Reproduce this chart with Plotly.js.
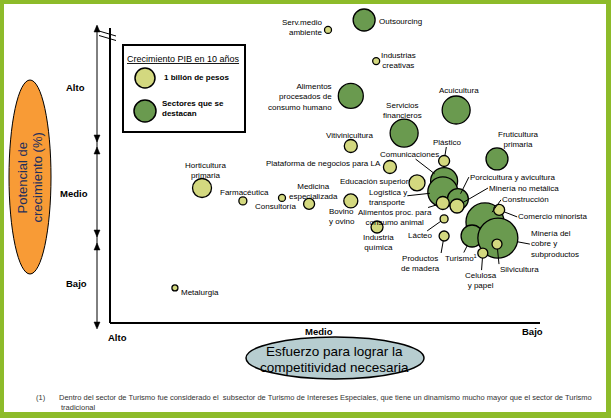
<!DOCTYPE html>
<html>
<head>
<meta charset="utf-8">
<script src="https://cdn.plot.ly/plotly-3.0.1.min.js"></script>
<style>html,body{margin:0;padding:0;background:#fff}#chart{width:611px;height:418px}</style>
</head>
<body>
<div id="chart"></div>
<script>
// ---------------- DATA ----------------
const sectors = [
  "Outsourcing", "Alimentos procesados de consumo humano", "Acuicultura", "Servicios financieros",
  "Fruticultura primaria", "Comunicaciones", "Logística y transporte", "Porcicultura y avicultura",
  "Construcción", "Turismo", "Minería del cobre y subproductos",
  "Serv.medio ambiente", "Industrias creativas", "Vitivinicultura", "Plástico",
  "Plataforma de negocios para LA", "Educación superior", "Alimentos proc. para consumo animal",
  "Minería no metálica", "Lácteo", "Productos de madera", "Industria química", "Bovino y ovino",
  "Medicina especializada", "Consultoría", "Farmacéutica", "Horticultura primaria", "Metalurgia",
  "Comercio minorista", "Silvicultura", "Celulosa y papel"
];
const sectorLabels = [
  "Outsourcing", "Alimentos<br>procesados de<br>consumo humano", "Acuicultura", "Servicios<br>financieros",
  "Fruticultura<br>primaria", "Comunicaciones", "Logística y<br>transporte", "Porcicultura y avicultura",
  "Construcción", "Turismo<sup>1</sup>", "Minería del<br>cobre y<br>subproductos",
  "Serv.medio<br>ambiente", "Industrias<br>creativas", "Vitivinicultura", "Plástico",
  "Plataforma de negocios para LA", "Educación superior", "Alimentos proc. para<br>consumo animal",
  "Minería no metálica", "Lácteo", "Productos<br>de madera", "Industria<br>química", "Bovino<br>y ovino",
  "Medicina<br>especializada", "Consultoría", "Farmacéutica", "Horticultura<br>primaria", "Metalurgia",
  "Comercio minorista", "Silvicultura", "Celulosa<br>y papel"
];
// x: esfuerzo para lograr la competitividad (0 = Alto, 100 = Bajo)
const esfuerzo = [59.1, 56.0, 80.5, 68.4, 90.0, 77.7, 77.4, 80.9, 87.2, 84.2, 90.2,
                  50.7, 61.9, 56.0, 77.7, 65.1, 71.4, 77.4, 80.7, 77.7, 77.7, 62.1, 56.0,
                  46.3, 40.0, 30.9, 21.4, 15.1, 90.5, 90.0, 86.7];
// y: potencial de crecimiento (0 = Bajo, 100 = Alto)
const potencial = [101.0, 75.7, 71.0, 63.3, 54.7, 47.3, 43.7, 41.3, 33.7, 29.0, 28.3,
                   97.7, 87.3, 59.0, 54.0, 52.0, 46.7, 40.0, 39.0, 34.7, 29.0, 32.0, 40.7,
                   39.7, 41.7, 40.7, 45.0, 11.7, 37.7, 26.3, 23.3];
// crecimiento PIB en 10 años (bubble size)
const crecimientoPIB = [22, 25, 28, 28, 22, 27, 30, 21, 38, 22, 40,
                        7, 7, 13, 11, 13, 16, 13, 14, 8, 10, 12, 14,
                        11, 7, 8, 19, 6, 11, 10, 10];
// sectores que se destacan
const destacado = [1,1,1,1,1,1,1,1,1,1,1, 0,0,0,0,0,0,0,0,0,0,0,0, 0,0,0,0,0,0,0,0];

const yTicks = ["Alto", "Medio", "Bajo"];
const xTicks = ["Alto", "Medio", "Bajo"];

// ---------------- LABEL PLACEMENT (pixel offsets from each bubble) ----------------
// [dx, dy, xanchor, yanchor, align, leader, standoff]
const labelPlace = {
  "Outsourcing": [14, 2, "left", "middle", "left", 0, 0],
  "Alimentos procesados de consumo humano": [-18, 1.5, "right", "middle", "right", 0, 0],
  "Acuicultura": [3, -20, "center", "middle", "center", 0, 0],
  "Servicios financieros": [-2, -23, "center", "middle", "center", 0, 0],
  "Fruticultura primaria": [21, -19, "center", "middle", "center", 0, 0],
  "Comunicaciones": [-35, -27, "center", "middle", "center", 1, 12],
  "Logística y transporte": [-55, 6, "center", "middle", "left", 1, 13],
  "Porcicultura y avicultura": [11, -22, "left", "middle", "left", 1, 6],
  "Construcción": [16, -22, "left", "middle", "left", 1, 12],
  "Turismo": [-11, 22, "center", "middle", "center", 1, 11],
  "Minería del cobre y subproductos": [32, 6, "left", "middle", "left", 1, 20],
  "Serv.medio ambiente": [-5, -2, "right", "middle", "right", 0, 0],
  "Industrias creativas": [4, -1, "left", "middle", "center", 0, 0],
  "Vitivinicultura": [-1, -11, "center", "middle", "center", 0, 0],
  "Plástico": [3, -19, "center", "middle", "center", 1, 5.5],
  "Plataforma de negocios para LA": [-8, -4, "right", "middle", "right", 0, 0],
  "Educación superior": [-7, -1, "right", "middle", "right", 0, 0],
  "Alimentos proc. para consumo animal": [-47.5, 14.5, "center", "middle", "center", 1, 6.5],
  "Minería no metálica": [31, -18, "left", "middle", "left", 1, 7],
  "Lácteo": [-24, 17, "center", "middle", "center", 1, 4],
  "Productos de madera": [-3, 17, "right", "top", "center", 1, 5],
  "Industria química": [1, 15, "center", "middle", "center", 0, 0],
  "Bovino y ovino": [-23, 15.5, "left", "middle", "left", 0, 0],
  "Medicina especializada": [4, -12.5, "center", "middle", "center", 0, 0],
  "Consultoría": [-6.5, 9, "center", "middle", "center", 0, 0],
  "Farmacéutica": [2, -8, "center", "middle", "center", 0, 0],
  "Horticultura primaria": [3, -18, "center", "middle", "center", 0, 0],
  "Metalurgia": [5, 5, "left", "middle", "left", 0, 0],
  "Comercio minorista": [18, 7, "left", "middle", "left", 1, 5.5],
  "Silvicultura": [2, 20, "left", "top", "left", 1, 5],
  "Celulosa y papel": [-2, 27, "center", "middle", "center", 1, 5]
};

// ---------------- STYLE ----------------
const W = 611, H = 418;
const FONT = "Liberation Sans, Arial, sans-serif";
const LIGHT = "#D3D87F", DARK = "#6A9A4F", GREEN_FRAME = "#8DBB2A";
const P = x => x / W;          // pixel x -> paper
const Q = y => 1 - y / H;      // pixel y -> paper

function pick(arr, flag) { return arr.filter((_, i) => destacado[i] === flag); }

const traces = [1, 0].map(flag => ({
  type: "scatter", mode: "markers",
  x: pick(esfuerzo, flag), y: pick(potencial, flag),
  text: pick(sectors, flag),
  hoverinfo: "text", cliponaxis: false,
  marker: {
    size: pick(crecimientoPIB, flag), sizemode: "diameter",
    color: flag ? DARK : LIGHT, opacity: 1,
    line: { color: "#000", width: 1.3 }
  }
}));

const annotations = [];
sectors.forEach((s, i) => {
  const p = labelPlace[s];
  annotations.push({
    x: esfuerzo[i], y: potencial[i], xref: "x", yref: "y",
    text: sectorLabels[i], showarrow: true,
    ax: p[0], ay: p[1], axref: "pixel", ayref: "pixel",
    xanchor: p[2], yanchor: p[3], align: p[4],
    arrowhead: 0, arrowwidth: p[5] ? 1 : 0.1,
    arrowcolor: p[5] ? "#000" : "rgba(0,0,0,0)",
    standoff: p[6], borderpad: 0,
    font: { family: FONT, size: 8, color: "#000" }
  });
});

function txt(text, x, y, opts) {
  return Object.assign({
    xref: "paper", yref: "paper", x: P(x), y: Q(y), text: text, showarrow: false,
    xanchor: "center", yanchor: "middle", borderpad: 0,
    font: { family: FONT, size: 8, color: "#000" }
  }, opts || {});
}

// axis tick labels
const bold10 = { family: FONT, size: 9.5, color: "#000", weight: "bold" };
const yTickPos = [[75, 87], [74, 193], [76, 283]];
yTicks.forEach((t, i) => annotations.push(txt(t, yTickPos[i][0], yTickPos[i][1], { font: bold10 })));
const xTickPos = [[117, 337], [319, 331], [532, 331]];
xTicks.forEach((t, i) => annotations.push(txt(t, xTickPos[i][0], xTickPos[i][1], { font: bold10 })));

// axis titles inside ellipses
annotations.push(txt("Potencial de", 22, 177.5, { textangle: -90, font: { family: FONT, size: 13, color: "#1F2F5C" } }));
annotations.push(txt("crecimiento (%)", 37, 177.5, { textangle: -90, font: { family: FONT, size: 13, color: "#1F2F5C" } }));
annotations.push(txt("Esfuerzo para lograr la", 334, 351, { font: { family: FONT, size: 13.5, color: "#000" } }));
annotations.push(txt("competitividad necesaria", 334, 367, { font: { family: FONT, size: 13.5, color: "#000" } }));

// legend texts
annotations.push(txt("<u>Crecimiento PIB en 10 años</u>", 183, 59, { font: { family: FONT, size: 9, color: "#000" } }));
annotations.push(txt("1 billón de pesos", 163, 78, { xanchor: "left", font: { family: FONT, size: 8, color: "#000", weight: "bold" } }));
annotations.push(txt("Sectores que se<br>destacan", 161, 108.5, { xanchor: "left", align: "left", font: { family: FONT, size: 8, color: "#000", weight: "bold" } }));

// footnote
annotations.push(txt("(1)", 35, 397, { xanchor: "left", font: { family: FONT, size: 7.5, color: "#333" } }));
annotations.push(txt("Dentro del sector de Turismo fue considerado el  subsector de Turismo de Intereses Especiales, que tiene un dinamismo mucho mayor que el sector de Turismo", 58, 397, { xanchor: "left", font: { family: FONT, size: 7.5, color: "#333" } }));
annotations.push(txt("tradicional", 60, 407, { xanchor: "left", font: { family: FONT, size: 7.5, color: "#333" } }));

// ---------------- SHAPES ----------------
const shapes = [];
function line(x0, y0, x1, y1, w, c) {
  shapes.push({ type: "line", xref: "paper", yref: "paper", x0: P(x0), y0: Q(y0), x1: P(x1), y1: Q(y1), line: { color: c || "#000", width: w || 1 } });
}
function tri(x, y, dir) { // arrow head, tip at (x,y); dir = -1 up, 1 down
  const b = y - dir * 7;
  shapes.push({ type: "path", xref: "paper", yref: "paper",
    path: `M ${P(x - 3)} ${Q(b)} L ${P(x)} ${Q(y)} L ${P(x + 3)} ${Q(b)} Z`,
    fillcolor: "#000", line: { color: "#000", width: 0.5 } });
}
function ell(x0, y0, x1, y1, fill, w) {
  shapes.push({ type: "circle", xref: "paper", yref: "paper", x0: P(x0), y0: Q(y1), x1: P(x1), y1: Q(y0), fillcolor: fill, line: { color: "#000", width: w } });
}
function rect(x0, y0, x1, y1, fill, lc, w) {
  shapes.push({ type: "rect", xref: "paper", yref: "paper", x0: P(x0), y0: Q(y1), x1: P(x1), y1: Q(y0), fillcolor: fill, line: { color: lc || "rgba(0,0,0,0)", width: w || 0 } });
}

// frame axes
line(110, 28, 110, 323, 2);
line(110, 323, 540, 323, 2);
line(99, 31, 116, 36, 1);
line(99, 35.5, 116, 40.5, 1);
// potential arrows
line(97, 26, 97, 327, 1);
tri(97, 25, -1); tri(97, 142, 1); tri(97, 147, -1);
tri(97, 237, 1); tri(97, 243, -1); tri(97, 329, 1);

// ellipses
ell(9, 80, 51, 274, "#F89B36", 1);
ell(246, 337, 424, 379, "#B7CDD0", 1.5);

// legend box
rect(123, 45, 245, 132, "#fff", "#000", 2);
ell(135, 68, 155, 88, LIGHT, 1.5);
ell(134, 100, 156, 122, DARK, 1.5);

// green frame
rect(0, 0, 611, 4, GREEN_FRAME);
rect(0, 412, 611, 418, GREEN_FRAME);
rect(0, 0, 4, 418, GREEN_FRAME);
rect(606, 0, 611, 418, GREEN_FRAME);

// axes: data 0..100 map to pixels 110..540 (x) and 323..23 (y); padded range keeps top bubbles visible
const layout = {
  width: W, height: H,
  margin: { l: 0, r: 0, t: 0, b: 0 },
  paper_bgcolor: "#fff", plot_bgcolor: "rgba(0,0,0,0)",
  showlegend: false,
  font: { family: FONT, size: 8, color: "#000" },
  xaxis: { range: [-5, 105], domain: [88.5 / W, 561.5 / W], visible: false, fixedrange: true },
  yaxis: { range: [-5, 105], domain: [(H - 338) / H, (H - 8) / H], visible: false, fixedrange: true },
  shapes: shapes, annotations: annotations
};

Plotly.newPlot("chart", traces, layout, { displayModeBar: false, responsive: false });
</script>
</body>
</html>
